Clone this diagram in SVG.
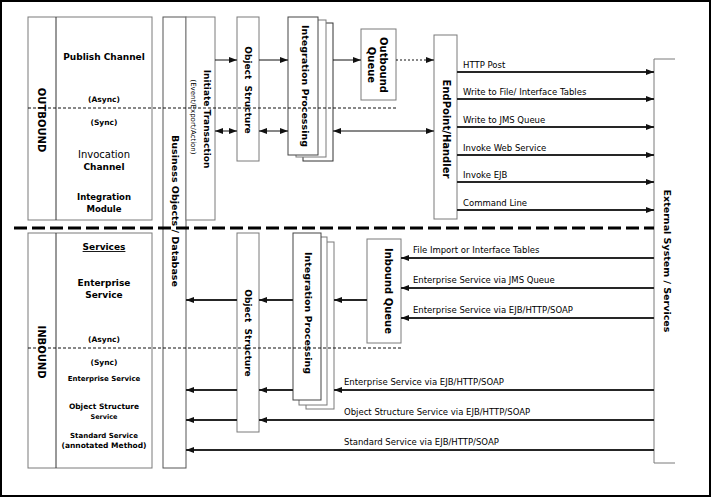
<svg xmlns="http://www.w3.org/2000/svg" width="712" height="498" viewBox="0 0 712 498">
<style>
.box{fill:#fff;stroke:#7a7a7a;stroke-width:1}
.dk{stroke:#333;stroke-width:1;fill:none}
.t{font-family:"DejaVu Sans",Verdana,sans-serif;fill:#000}
.b{font-weight:bold}
.v{text-anchor:middle;dominant-baseline:central}
.m{text-anchor:middle}
.c{stroke:#111;stroke-width:1;fill:none}
.h{stroke:#262626;stroke-width:2;fill:none}
.dot{stroke:#111;stroke-width:1;stroke-dasharray:2 2;fill:none}
.lbl{font-size:8.5px}
</style>
<defs>
<marker id="ah" viewBox="0 0 8 6" refX="8" refY="3" markerWidth="8" markerHeight="6" markerUnits="userSpaceOnUse" orient="auto-start-reverse">
<path d="M0,0 L8,3 L0,6 z" fill="#111"/>
</marker>
</defs>
<rect x="1" y="1" width="709" height="495" fill="#fff" stroke="#000" stroke-width="2"/>

<g id="outbound">
<rect class="box" x="28" y="17" width="124" height="203"/>
<line class="dk" x1="56" y1="17" x2="56" y2="220"/>
<text class="t b v" font-size="10" transform="translate(41,120) rotate(90)">OUTBOUND</text>
<text class="t b m" font-size="9" x="104" y="60">Publish Channel</text>
<text class="t b m" font-size="7.5" x="104" y="102">(Async)</text>
<text class="t b m" font-size="7.5" x="104" y="125">(Sync)</text>
<text class="t m" font-size="10" font-weight="500" x="104" y="158">Invocation</text>
<text class="t m" font-size="9" font-weight="600" x="104" y="170">Channel</text>
<text class="t b m" font-size="8.5" x="104" y="200">Integration</text>
<text class="t b m" font-size="8.5" x="104" y="212">Module</text>
</g>

<g id="inbound">
<rect class="box" x="28" y="233" width="124" height="235"/>
<line class="dk" x1="56" y1="233" x2="56" y2="468"/>
<text class="t b v" font-size="10" transform="translate(41,352) rotate(90)">INBOUND</text>
<text class="t b m" font-size="9" x="104" y="250" text-decoration="underline">Services</text>
<text class="t b m" font-size="9" x="104" y="286">Enterprise</text>
<text class="t b m" font-size="9" x="104" y="298">Service</text>
<text class="t b m" font-size="7.5" x="104" y="342">(Async)</text>
<text class="t b m" font-size="7.5" x="104" y="365">(Sync)</text>
<text class="t b m" font-size="7" x="104" y="381">Enterprise Service</text>
<text class="t b m" font-size="7.5" x="104" y="409">Object Structure</text>
<text class="t b m" font-size="6.5" x="104" y="419">Service</text>
<text class="t b m" font-size="7" x="104" y="438">Standard Service</text>
<text class="t b m" font-size="7.5" x="104" y="448">(annotated Method)</text>
</g>

<g id="business-objects">
<rect class="box" x="163" y="17" width="23" height="451" style="stroke:#555"/>
<text class="t b v" font-size="9.5" transform="translate(175,211) rotate(90)">Business Objects / Database</text>
</g>

<g id="initiate-transaction">
<rect class="box" x="186" y="17" width="29" height="203"/>
<text class="t b v" font-size="9" transform="translate(207,119) rotate(90)">Initiate Transaction</text>
<text class="t v" font-size="7" transform="translate(193,117) rotate(90)">(Event/Export/Action)</text>
</g>

<g id="object-structure-out">
<rect class="box" x="237" y="17" width="22" height="144"/>
<text class="t b v" font-size="9" transform="translate(248,90) rotate(90)" xml:space="preserve">Object  Structure</text>
</g>

<g id="integration-processing-out">
<rect class="box" x="303" y="23" width="30" height="138" style="stroke:#333"/>
<rect class="box" x="296" y="20" width="30" height="137"/>
<rect class="box" x="288" y="17" width="30" height="138" style="stroke:#444"/>
<text class="t b v" font-size="9.5" transform="translate(305,86) rotate(90)">Integration Processing</text>
</g>

<g id="outbound-queue">
<rect class="box" x="361" y="29" width="35" height="71"/>
<text class="t b v" font-size="10" transform="translate(383,65) rotate(90)">Outbound</text>
<text class="t b v" font-size="10" transform="translate(371,65) rotate(90)">Queue</text>
</g>

<g id="endpoint-handler">
<rect class="box" x="434" y="35" width="23" height="184"/>
<text class="t b v" font-size="10" transform="translate(446,129) rotate(90)">EndPoint/Handler</text>
</g>

<g id="external-system">
<path class="box" d="M675,59 H654 V463 H675" style="fill:none"/>
<text class="t b v" font-size="9.5" transform="translate(667,261) rotate(90)">External System / Services</text>
</g>

<g id="object-structure-in">
<rect class="box" x="237" y="233" width="22" height="199"/>
<text class="t b v" font-size="9" transform="translate(248,333) rotate(90)" xml:space="preserve">Object  Structure</text>
</g>

<g id="integration-processing-in">
<rect class="box" x="306" y="242" width="28" height="167"/>
<rect class="box" x="299" y="237" width="28" height="168"/>
<rect class="box" x="293" y="233" width="28" height="167" style="stroke:#444"/>
<text class="t b v" font-size="9.5" transform="translate(308,313) rotate(90)">Integration Processing</text>
</g>

<g id="inbound-queue">
<rect class="box" x="367" y="239" width="34" height="104"/>
<text class="t b v" font-size="10" transform="translate(388,291) rotate(90)">Inbound Queue</text>
</g>

<g id="dividers">
<line x1="28" y1="108" x2="396" y2="108" stroke="#111" stroke-width="1" stroke-dasharray="3 2"/>
<line x1="28" y1="348" x2="401" y2="348" stroke="#111" stroke-width="1" stroke-dasharray="3 2"/>
<line x1="14" y1="228" x2="654" y2="228" stroke="#000" stroke-width="3" stroke-dasharray="13 5"/>
</g>

<g id="connectors">
<line class="c" x1="215" y1="60" x2="237" y2="60" marker-end="url(#ah)"/>
<line class="c" x1="259" y1="60" x2="288" y2="60" marker-end="url(#ah)"/>
<line class="c" x1="333" y1="60" x2="361" y2="60" marker-end="url(#ah)"/>
<line class="dot" x1="396" y1="60" x2="434" y2="60" marker-end="url(#ah)"/>
<line class="c" x1="215" y1="131" x2="237" y2="131" marker-start="url(#ah)" marker-end="url(#ah)"/>
<line class="c" x1="259" y1="131" x2="288" y2="131" marker-start="url(#ah)" marker-end="url(#ah)"/>
<line class="c" x1="333" y1="131" x2="434" y2="131" marker-start="url(#ah)" marker-end="url(#ah)"/>

<line class="h" x1="457" y1="72" x2="654" y2="72" marker-end="url(#ah)"/>
<line class="h" x1="457" y1="99" x2="654" y2="99" marker-end="url(#ah)"/>
<line class="h" x1="457" y1="127" x2="654" y2="127" marker-end="url(#ah)"/>
<line class="h" x1="457" y1="155" x2="654" y2="155" marker-end="url(#ah)"/>
<line class="h" x1="457" y1="182" x2="654" y2="182" marker-end="url(#ah)"/>
<line class="h" x1="457" y1="210" x2="654" y2="210" marker-end="url(#ah)"/>
<text class="t lbl" x="463" y="68">HTTP Post</text>
<text class="t lbl" x="463" y="95">Write to File/ Interface Tables</text>
<text class="t lbl" x="463" y="123">Write to JMS Queue</text>
<text class="t lbl" x="463" y="151">Invoke Web Service</text>
<text class="t lbl" x="463" y="178">Invoke EJB</text>
<text class="t lbl" x="463" y="206">Command Line</text>

<line class="h" x1="654" y1="258" x2="401" y2="258" marker-end="url(#ah)"/>
<line class="h" x1="654" y1="288" x2="401" y2="288" marker-end="url(#ah)"/>
<line class="h" x1="654" y1="318" x2="401" y2="318" marker-end="url(#ah)"/>
<text class="t lbl" x="413" y="253">File Import or Interface Tables</text>
<text class="t lbl" x="413" y="283">Enterprise Service via JMS Queue</text>
<text class="t lbl" x="413" y="313">Enterprise Service via EJB/HTTP/SOAP</text>

<line class="h" x1="367" y1="300" x2="334" y2="300" marker-end="url(#ah)"/>
<line class="h" x1="293" y1="300" x2="259" y2="300" marker-end="url(#ah)"/>
<line class="h" x1="237" y1="300" x2="186" y2="300" marker-end="url(#ah)"/>

<line class="h" x1="654" y1="390" x2="334" y2="390" marker-end="url(#ah)"/>
<line class="h" x1="293" y1="390" x2="259" y2="390" marker-end="url(#ah)"/>
<line class="h" x1="237" y1="390" x2="186" y2="390" marker-end="url(#ah)"/>
<text class="t lbl" x="344" y="385">Enterprise Service via EJB/HTTP/SOAP</text>

<line class="h" x1="654" y1="420" x2="259" y2="420" marker-end="url(#ah)"/>
<line class="h" x1="237" y1="420" x2="186" y2="420" marker-end="url(#ah)"/>
<text class="t lbl" x="344" y="415">Object Structure Service via EJB/HTTP/SOAP</text>

<line class="h" x1="654" y1="450" x2="186" y2="450" marker-end="url(#ah)"/>
<text class="t lbl" x="344" y="445">Standard Service via EJB/HTTP/SOAP</text>
</g>
</svg>
